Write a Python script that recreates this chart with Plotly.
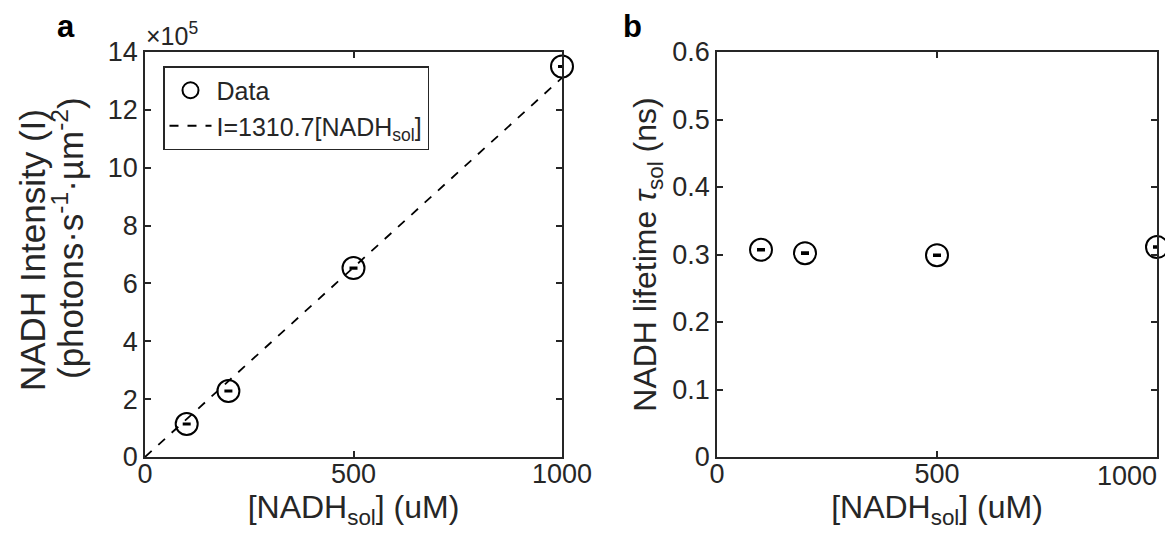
import plotly.graph_objects as go

conc = [100, 200, 500, 1000]
intensity = [1.14e5, 2.28e5, 6.53e5, 13.5e5]
intensity_err = [0.01e5, 0.01e5, 0.01e5, 0.01e5]
fit_slope = 1310.7
fit_x = [0, 1000]
lifetime = [0.307, 0.302, 0.299, 0.311]
lifetime_err = [0.0008, 0.0008, 0.0008, 0.0008]
y_a_ticks = [0, 2e5, 4e5, 6e5, 8e5, 10e5, 12e5, 14e5]
y_a_labels = ["0", "2", "4", "6", "8", "10", "12", "14"]
y_b_ticks = [0, 0.1, 0.2, 0.3, 0.4, 0.5, 0.6]
y_b_labels = ["0", "0.1", "0.2", "0.3", "0.4", "0.5", "0.6"]
x_ticks = [0, 500, 1000]
x_a_labels = ["0", "500", "1000"]
x_b_labels = ["0", "500", ""]

FONT = "Liberation Sans, Arial, Helvetica, sans-serif"
TICK = 27
TITLE = 32
TXT = "#262626"
W, H = 1157, 526  # page body has an 8px margin on every side


def px(x):
    return (x - 8) / W


def py(y):
    return 1 - (y - 8) / H


fig = go.Figure()

fig.add_trace(go.Scatter(
    x=conc, y=intensity, mode="markers", cliponaxis=False,
    marker=dict(symbol="circle-open", size=22, color="black", line=dict(width=2)),
    error_y=dict(type="data", array=intensity_err, color="black", thickness=2.5, width=4),
    name="Data", xaxis="x", yaxis="y"))
fig.add_trace(go.Scatter(
    x=fit_x, y=[fit_slope * v for v in fit_x], mode="lines",
    line=dict(color="black", width=1.8, dash="dash"),
    name="I=1310.7[NADH<sub>sol</sub>]", xaxis="x", yaxis="y"))
fig.add_trace(go.Scatter(
    x=conc, y=lifetime, mode="markers", cliponaxis=False,
    marker=dict(symbol="circle-open", size=22, color="black", line=dict(width=2)),
    error_y=dict(type="data", array=lifetime_err, color="black", thickness=2.5, width=4),
    showlegend=False, xaxis="x2", yaxis="y2"))

axis_common = dict(showline=True, linecolor=TXT, linewidth=1.5, mirror="ticks",
                   ticks="inside", ticklen=6, tickcolor=TXT, tickwidth=1.5,
                   showgrid=False, zeroline=False, automargin=False,
                   tickfont=dict(size=TICK, color=TXT, family=FONT))

x_title = "[NADH<sub>sol</sub>] (uM)"

fig.update_layout(
    width=W, height=H,
    margin=dict(l=0, r=0, t=0, b=0),
    paper_bgcolor="white", plot_bgcolor="white",
    font=dict(family=FONT, color=TXT),
    showlegend=True,
    legend=dict(x=px(163), y=py(66), xanchor="left", yanchor="top",
                bordercolor=TXT, borderwidth=1.5, bgcolor="white",
                font=dict(size=25, family=FONT, color=TXT),
                tracegroupgap=0, itemwidth=42),
    xaxis=dict(domain=[px(145), px(562)], range=[0, 1000], tickvals=x_ticks, ticktext=x_a_labels,
               ticklabelstandoff=-8,
               title=dict(text=x_title, font=dict(size=TITLE, family=FONT), standoff=0),
               anchor="y", **axis_common),
    yaxis=dict(domain=[py(457), py(52)], range=[0, 14e5], tickvals=y_a_ticks, ticktext=y_a_labels,
               anchor="x", **axis_common),
    xaxis2=dict(domain=[px(717), px(1157)], range=[0, 1000], tickvals=x_ticks, ticktext=x_b_labels,
                ticklabelstandoff=-8,
                title=dict(text=x_title, font=dict(size=TITLE, family=FONT), standoff=0),
                anchor="y2", **axis_common),
    yaxis2=dict(domain=[py(457), py(52)], range=[0, 0.6], tickvals=y_b_ticks, ticktext=y_b_labels,
                title=dict(text="NADH lifetime <i>τ</i><sub>sol</sub> (ns)",
                           font=dict(size=TITLE, family=FONT), standoff=6),
                anchor="x2", **axis_common),
    annotations=[
        dict(text="<b>a</b>", x=px(66), y=1, xref="paper", yref="paper",
             xanchor="center", yanchor="top", borderpad=0,
             showarrow=False, font=dict(size=31, family=FONT, color="black")),
        dict(text="<b>b</b>", x=px(632), y=1, xref="paper", yref="paper",
             xanchor="center", yanchor="top", borderpad=0,
             showarrow=False, font=dict(size=31, family=FONT, color="black")),
        dict(text="×10<sup>5</sup>", x=px(144), y=py(52), xref="paper", yref="paper",
             xanchor="left", yanchor="bottom", showarrow=False,
             font=dict(size=25, family=FONT, color=TXT)),
        # y-axis title of panel a (two lines, MATLAB-like tight spacing)
        dict(text="NADH Intensity (I)", x=px(32), y=py(250), xref="paper", yref="paper",
             xanchor="center", yanchor="middle", textangle=-90, showarrow=False,
             font=dict(size=35, family=FONT, color=TXT)),
        dict(text="(photons·s<sup>-1</sup>·µm<sup>-2</sup>)", x=px(68), y=py(238),
             xref="paper", yref="paper", xanchor="center", yanchor="middle",
             textangle=-90, showarrow=False,
             font=dict(size=35, family=FONT, color=TXT)),
        # last x tick label of panel b (shifted inward as in the reference)
        dict(text=str(x_ticks[-1]), x=px(1158), y=py(476), xref="paper", yref="paper",
             xanchor="right", yanchor="middle", showarrow=False, borderpad=0,
             font=dict(size=TICK, family=FONT, color=TXT)),
    ],
)

fig.write_html("out.html")
